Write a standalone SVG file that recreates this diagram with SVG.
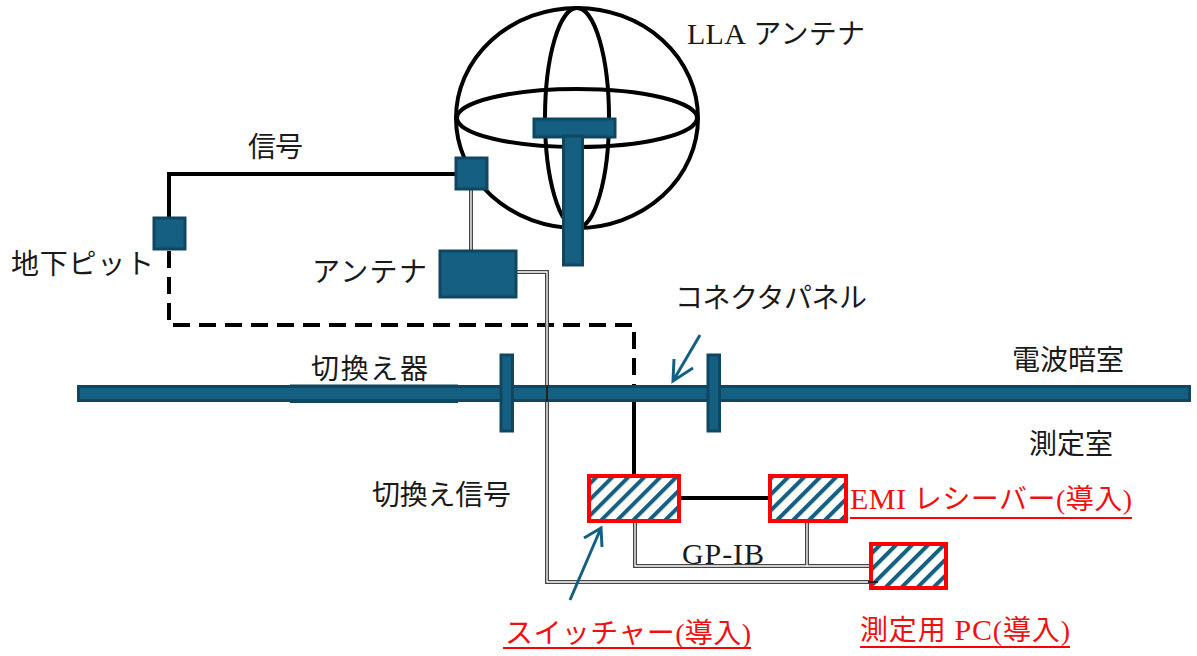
<svg xmlns="http://www.w3.org/2000/svg" width="1197" height="656" viewBox="0 0 1197 656">
<style>
text{font-family:"Liberation Serif","Noto Sans CJK JP",serif;font-size:28px;fill:#1a1a1a}
text.r{fill:#f01010}
tspan.l{font-size:30px}
.blue{fill:#156082;stroke:#0f4761;stroke-width:3}
.hatch{fill:url(#h);stroke:#f00;stroke-width:4}
.k{fill:none;stroke:#000;stroke-width:4}
.d1{fill:none;stroke:#444;stroke-width:4}
.d2{fill:none;stroke:#fff;stroke-width:1.3}
.a{fill:none;stroke:#156082;stroke-width:3}
.u{stroke:#f00;stroke-width:2}
</style>
<defs>
<pattern id="h" width="11.300" height="11.300" patternUnits="userSpaceOnUse" patternTransform="rotate(45)">
<rect width="11.300" height="11.300" fill="#fff"/><rect width="4" height="11.300" fill="#156082"/>
</pattern>
</defs>
<rect width="1197" height="656" fill="#fff"/>
<g id="lla-sphere">
<ellipse class="k" cx="577" cy="118" rx="121" ry="110"/>
<ellipse class="k" cx="577" cy="118" rx="120" ry="29"/>
<ellipse class="k" cx="577" cy="118" rx="32" ry="110"/>
</g>
<g id="connectors">
<path class="k" d="M169 218V174H455"/>
<path class="k" stroke-dasharray="17 9" d="M169 251V325H634V390"/>
<path class="k" d="M634 402V476M679 498H769"/>
<path class="d1" d="M471 190V250M517 272H547V582H878M635 521V566H870M807 521V566"/>
<path class="d2" d="M471 190V250M517 272H547V582H878M635 521V566H870M807 521V566"/>
</g>
<g id="wall">
<rect x="290" y="384.500" width="168" height="18.500" fill="#0f4761"/>
<rect class="blue" x="78.500" y="386.500" width="1111" height="14"/>
<rect class="blue" x="501" y="355" width="11.500" height="76"/>
<rect class="blue" x="708" y="355" width="11.500" height="76"/>
</g>
<path d="M547 385V402" stroke="#222" stroke-width="2"/>
<g id="lla-antenna">
<rect class="blue" x="534" y="119" width="81" height="18"/>
<rect class="blue" x="563.500" y="136" width="19" height="129"/>
</g>
<g id="node-signal"><rect class="blue" x="456" y="158" width="31" height="31"/></g>
<g id="node-pit"><rect class="blue" x="154" y="218" width="31" height="31"/></g>
<g id="node-antenna"><rect class="blue" x="440" y="251" width="76" height="46"/></g>
<g id="node-switcher"><rect class="hatch" x="589" y="476" width="90" height="45"/></g>
<g id="node-emi"><rect class="hatch" x="770" y="476" width="76" height="45"/></g>
<g id="node-pc"><rect class="hatch" x="871" y="544" width="75" height="44"/></g>
<path d="M868 582H878" stroke="#222" stroke-width="2"/>
<g id="arrows">
<path class="a" d="M700 335L673 381M674 359L673 381L693 368"/>
<path class="a" d="M570 600L601 528M584 538L601 528L602 547"/>
</g>
<g id="labels">
<text x="687" y="44" textLength="178" lengthAdjust="spacing"><tspan class="l">LLA</tspan> アンテナ</text>
<text x="248" y="157" textLength="55" lengthAdjust="spacing">信号</text>
<text x="11" y="274" textLength="143" lengthAdjust="spacing">地下ピット</text>
<text x="312" y="282" textLength="115" lengthAdjust="spacing">アンテナ</text>
<text x="675" y="308" textLength="192" lengthAdjust="spacing">コネクタパネル</text>
<text x="311" y="379" textLength="117" lengthAdjust="spacing">切換え器</text>
<text x="1012" y="370" textLength="112" lengthAdjust="spacing">電波暗室</text>
<text x="1029" y="454" textLength="84" lengthAdjust="spacing">測定室</text>
<text x="372" y="505" textLength="139" lengthAdjust="spacing">切換え信号</text>
<text x="682" y="564" textLength="82" lengthAdjust="spacing"><tspan class="l">GP-IB</tspan></text>
<text class="r" x="850" y="509" textLength="282" lengthAdjust="spacing"><tspan class="l">EMI</tspan> レシーバー(導入)</text>
<text class="r" x="505" y="643" textLength="246" lengthAdjust="spacing">スイッチャー(導入)</text>
<text class="r" x="860" y="640" textLength="210" lengthAdjust="spacing">測定用 <tspan class="l">PC</tspan>(導入)</text>
<path class="u" d="M850 518H1132M503 648H751M860 647H1070"/>
</g>
</svg>
